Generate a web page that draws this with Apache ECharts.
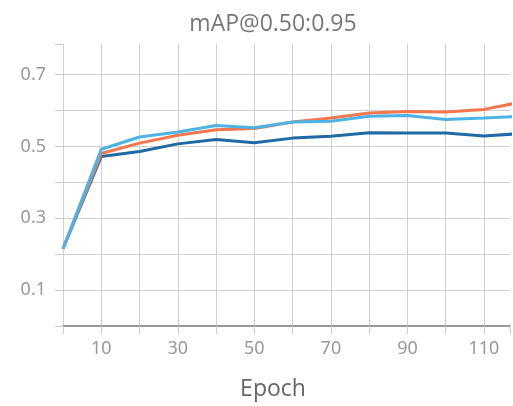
<!DOCTYPE html>
<html>
<head>
<meta charset="utf-8">
<script src="https://cdn.jsdelivr.net/npm/echarts@6/dist/echarts.min.js"></script>
<style>
  html, body { margin: 0; padding: 0; background: #fff; }
  #chart { width: 513px; height: 406px; }
</style>
</head>
<body>
<div id="chart"></div>
<script>
// 数据
var epochs = [0, 10, 20, 30, 40, 50, 60, 70, 80, 90, 100, 110, 120];
var darkBlue = [0.215, 0.472, 0.486, 0.507, 0.519, 0.510, 0.523, 0.528, 0.538, 0.537, 0.537, 0.529, 0.536];
var orange = [0.215, 0.480, 0.509, 0.531, 0.546, 0.550, 0.568, 0.579, 0.593, 0.597, 0.596, 0.603, 0.624];
var lightBlue = [0.215, 0.492, 0.526, 0.540, 0.558, 0.552, 0.568, 0.570, 0.584, 0.586, 0.575, 0.579, 0.584];
var xLabels = [10, 30, 50, 70, 90, 110];
var yLabels = [0.1, 0.3, 0.5, 0.7];

function pairs(vals) {
  return epochs.map(function (e, i) { return [e, vals[i]]; });
}

var myChart = echarts.init(document.getElementById('chart'));

var option = {
  animation: false,
  title: [{
    text: 'mAP@0.50:0.95',
    left: 268,
    top: 8,
    textAlign: 'center',
    textStyle: { color: '#777', fontSize: 23, fontWeight: 'normal', fontFamily: 'Open Sans' }
  }, {
    text: 'Epoch',
    left: 268,
    top: 373,
    textAlign: 'center',
    textStyle: { color: '#666', fontSize: 23, fontWeight: 'normal', fontFamily: 'Open Sans' }
  }],
  grid: { left: 63, right: 0, top: 44, bottom: 80 },
  xAxis: {
    type: 'value',
    min: 0,
    max: 116.8,
    interval: 10,
    axisLine: { show: true, onZero: false, lineStyle: { color: '#999', width: 2 } },
    axisTick: { show: true, length: 8, lineStyle: { color: '#ccc' } },
    axisLabel: {
      color: '#999', fontSize: 18, fontFamily: 'Noto Sans', margin: 14,
      formatter: function (v) { return xLabels.indexOf(v) >= 0 ? String(v) : ''; }
    },
    splitLine: { show: true, showMaxLine: false, lineStyle: { color: '#d0d0d0' } }
  },
  yAxis: {
    type: 'value',
    min: 0,
    max: 0.785,
    interval: 0.1,
    axisLine: { show: false },
    axisTick: { show: true, length: 8, lineStyle: { color: '#ccc' } },
    axisLabel: {
      color: '#999', fontSize: 18, fontFamily: 'Noto Sans', margin: 17,
      formatter: function (v) {
        var r = Math.round(v * 10) / 10;
        return (Math.abs(v - r) < 1e-6 && yLabels.indexOf(r) >= 0) ? r.toFixed(1) : '';
      }
    },
    splitLine: { show: true, showMaxLine: false, lineStyle: { color: '#d0d0d0' } }
  },
  series: [{
    type: 'line', data: pairs(darkBlue), showSymbol: false, color: '#1f6aa5',
    lineStyle: { width: 3 }
  }, {
    type: 'line', data: pairs(orange), showSymbol: false, color: '#f2764e',
    lineStyle: { width: 3 }
  }, {
    type: 'line', data: pairs(lightBlue), showSymbol: false, color: '#4cb3e4',
    lineStyle: { width: 3 }
  }]
};

myChart.setOption(option);
</script>
</body>
</html>
